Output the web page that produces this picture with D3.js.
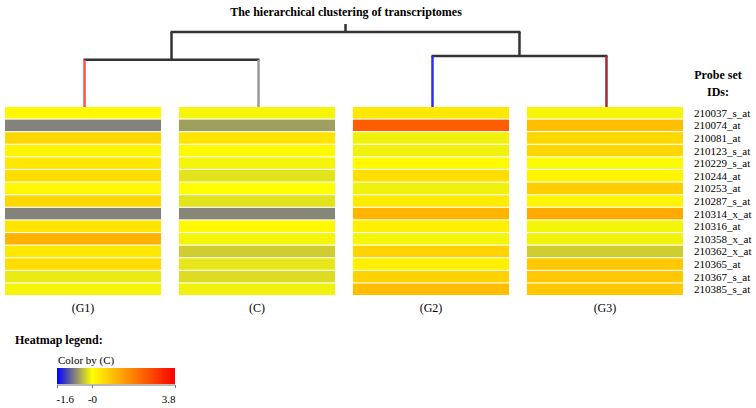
<!DOCTYPE html>
<html>
<head>
<meta charset="utf-8">
<script src="https://cdn.jsdelivr.net/npm/d3@7"></script>
<style>
  html, body { margin: 0; padding: 0; background: #fff; }
  svg { display: block; }
  text { font-family: "Liberation Serif", "Times New Roman", serif; fill: #000; }
</style>
</head>
<body>
<svg id="chart" width="756" height="408"></svg>
<script>
// ---------- data ----------
const groups = ["G1", "C", "G2", "G3"];
const probes = ["210037_s_at", "210074_at", "210081_at", "210123_s_at", "210229_s_at",
  "210244_at", "210253_at", "210287_s_at", "210314_x_at", "210316_at",
  "210358_x_at", "210362_x_at", "210365_at", "210367_s_at", "210385_s_at"];
const valuesG1 = [0.1, -0.78, 0.6, 0.15, 0.35, 0.5, 0.1, 0.6, -0.78, 0.4, 1.15, 0.35, 0.5, -0.13, -0.06];
const valuesC  = [-0.06, -0.6, 0.4, 0.07, -0.06, -0.18, 0.0, -0.18, -0.75, 0.1, -0.06, -0.31, -0.16, -0.22, -0.09];
const valuesG2 = [0.35, 2.4, -0.09, -0.09, 0.07, 0.5, -0.09, 0.3, 1.1, 0.22, -0.06, 0.67, 0.22, 0.67, 0.97];
const valuesG3 = [-0.06, 0.97, 0.6, 0.6, -0.03, 0.15, 0.75, 0.15, 1.27, -0.06, -0.08, -0.31, 0.82, 0.82, 0.82];
// dendrogram: merge heights (distance)
const tree = {name: "root", height: 1.0, children: [
  {name: "left", height: 0.63, children: [{name: "G1", height: 0}, {name: "C", height: 0}]},
  {name: "right", height: 0.68, children: [{name: "G2", height: 0}, {name: "G3", height: 0}]}
]};
const leafColors = {G1: "#ff4d4d", C: "#9a9a9a", G2: "#2b2bff", G3: "#9e2a33"};
const legendDomain = [-1.6, 0, 3.8];
const legendTicks = [-1.6, 0, 3.8];
const legendTickLabels = ["-1.6", "-0", "3.8"];

const valuesByGroup = {G1: valuesG1, C: valuesC, G2: valuesG2, G3: valuesG3};

// ---------- scales ----------
const svg = d3.select("#chart");
const color = d3.scaleLinear().domain(legendDomain).range(["#0000ff", "#ffff00", "#ff0000"]);
const x = d3.scaleBand().domain(groups).range([5, 683]).paddingInner(0.103);
const y = d3.scaleBand().domain(probes).range([107, 295]).paddingInner(0.09);
const h = d3.scaleLinear().domain([0, 1]).range([107, 32]);

// ---------- title ----------
svg.append("text").attr("x", 346).attr("y", 16).attr("text-anchor", "middle")
  .attr("font-size", 12).attr("font-weight", "bold")
  .text("The hierarchical clustering of transcriptomes");

// ---------- heatmap ----------
const cells = [];
groups.forEach(g => probes.forEach((p, i) => cells.push({g, p, v: valuesByGroup[g][i]})));
svg.append("g").selectAll("rect").data(cells).join("rect")
  .attr("x", d => x(d.g)).attr("y", d => y(d.p))
  .attr("width", x.bandwidth()).attr("height", y.bandwidth())
  .attr("fill", d => color(d.v));

// ---------- dendrogram ----------
const root = d3.hierarchy(tree);
const cx = name => x(name) + x.bandwidth() / 2 + 1.5;
root.eachAfter(n => {
  if (n.children) {
    const xs = n.children.map(c => c.px);
    n.px = (d3.min(xs) + d3.max(xs)) / 2;
  } else {
    n.px = cx(n.data.name);
  }
  n.py = h(n.data.height);
});
const dg = svg.append("g").attr("fill", "none");
root.descendants().forEach(n => {
  if (n.children) {
    const xs = n.children.map(c => c.px);
    dg.append("line").attr("x1", d3.min(xs) - 1).attr("x2", d3.max(xs) + 1)
      .attr("y1", n.py).attr("y2", n.py).attr("stroke", "#333").attr("stroke-width", 2.5);
  }
  if (n.parent) {
    const col = n.children ? "#333" : leafColors[n.data.name];
    dg.append("line").attr("x1", n.px).attr("x2", n.px)
      .attr("y1", n.parent.py).attr("y2", n.py).attr("stroke", col).attr("stroke-width", 2.5);
  } else {
    dg.append("line").attr("x1", n.px).attr("x2", n.px)
      .attr("y1", n.py - 8).attr("y2", n.py).attr("stroke", "#333").attr("stroke-width", 2.5);
  }
});

// ---------- column labels ----------
svg.append("g").selectAll("text").data(groups).join("text")
  .attr("x", d => x(d) + x.bandwidth() / 2).attr("y", 312)
  .attr("text-anchor", "middle").attr("font-size", 12)
  .text(d => "(" + d + ")");

// ---------- row labels ----------
svg.append("g").selectAll("text").data(probes).join("text")
  .attr("x", 694).attr("y", d => y(d) + y.bandwidth() / 2 + 4)
  .attr("font-size", 11)
  .text(d => d);

svg.append("text").attr("x", 718).attr("y", 79).attr("text-anchor", "middle")
  .attr("font-size", 12).attr("font-weight", "bold").text("Probe set");
svg.append("text").attr("x", 718).attr("y", 96).attr("text-anchor", "middle")
  .attr("font-size", 12).attr("font-weight", "bold").text("IDs:");

// ---------- legend ----------
svg.append("text").attr("x", 15).attr("y", 344).attr("font-size", 12)
  .attr("font-weight", "bold").text("Heatmap legend:");
svg.append("text").attr("x", 58).attr("y", 364).attr("font-size", 11).text("Color by (C)");

const lx = d3.scaleLinear().domain([legendDomain[0], legendDomain[2]]).range([57, 175]);
const defs = svg.append("defs");
const grad = defs.append("linearGradient").attr("id", "lg").attr("x1", "0%").attr("x2", "100%");
legendDomain.forEach(v => grad.append("stop")
  .attr("offset", ((lx(v) - 57) / 118 * 100) + "%").attr("stop-color", color(v)));
svg.append("rect").attr("x", 57).attr("y", 368).attr("width", 118).attr("height", 16)
  .attr("fill", "url(#lg)");

const axis = d3.axisBottom(lx).tickValues(legendTicks).tickSize(3)
  .tickFormat((d, i) => legendTickLabels[i]);
const ag = svg.append("g").attr("transform", "translate(0,385)").call(axis);
ag.select(".domain").attr("stroke", "#777").attr("d", "M57,0V0H175V0");
ag.selectAll(".tick line").attr("stroke", "#777");
ag.selectAll(".tick text").attr("font-family", "Liberation Serif, serif").attr("font-size", 11)
  .attr("fill", "#000").attr("dy", "1.05em")
  .attr("text-anchor", (d, i) => i === 0 ? "start" : (i === legendTicks.length - 1 ? "end" : "middle"))
  .attr("dx", (d, i) => i === 0 ? -1 : 0);
</script>
</body>
</html>
